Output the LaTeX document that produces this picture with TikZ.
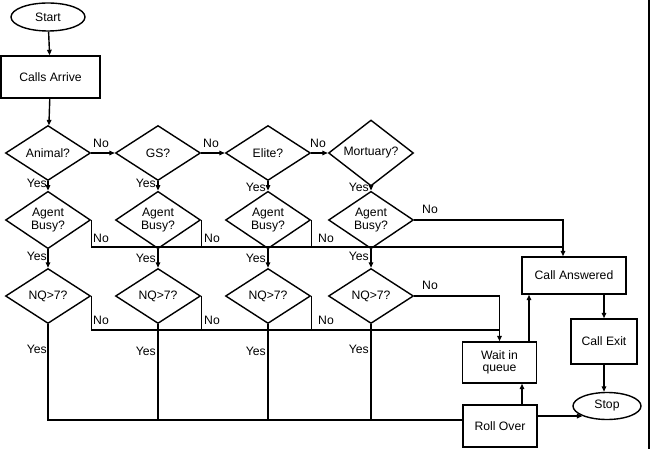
\documentclass[tikz,border=0pt]{standalone}
\usepackage{fontspec}
\setmainfont{Liberation Sans}
\usetikzlibrary{shapes.geometric,arrows.meta}
\begin{document}
\begin{tikzpicture}[x=1pt,y=-1pt,
  every node/.style={font=\fontsize{12.2}{12.5}\selectfont},
  ln/.style={line width=1.4pt, black},
  arr/.style={ln, -{Triangle[length=5.5pt,width=4.5pt]}},
  dec/.style={draw, line width=1.4pt, diamond, inner sep=0pt, minimum width=85pt, minimum height=55pt, align=center},
  proc/.style={draw, line width=1.4pt, rectangle, inner sep=0pt, align=center},
  term/.style={draw, line width=1.4pt, ellipse, inner sep=0pt},
  lbl/.style={inner sep=0pt}]
\useasboundingbox (0,0) rectangle (650,449);
\draw[line width=1.6pt] (649,0) -- (649,449);
% terminals and processes
\node[term, minimum width=74pt, minimum height=28pt] (start) at (48,17) {Start};
\node[proc, minimum width=99pt, minimum height=42pt] (ca) at (50.5,77) {Calls Arrive};
\node[proc, minimum width=104pt, minimum height=37pt] (ans) at (574,275.5) {Call Answered};
\node[proc, minimum width=66pt, minimum height=45pt] (ce) at (604,341.5) {Call Exit};
\node[proc, minimum width=74pt, minimum height=41pt] (wq) at (499.5,362.5) {Wait in\\queue};
\node[proc, minimum width=74pt, minimum height=42pt] (ro) at (500,426) {Roll Over};
\node[term, minimum width=68pt, minimum height=27pt] (stop) at (607,406) {Stop};
% decisions
\node[dec] (a1) at (48,153) {Animal?};
\node[dec] (a2) at (158,153) {GS?};
\node[dec] (a3) at (268,153) {Elite?};
\node[dec] (a4) at (371,153) {Mortuary?};
\foreach \i/\x in {1/48,2/158,3/268,4/371}{
  \node[dec] (b\i) at (\x,220) {Agent\\Busy?};
  \node[dec] (c\i) at (\x,296) {NQ>7?};
}
% junction coordinates
\coordinate (jb) at (563,247);
\coordinate (jc) at (499.5,330);
\coordinate (ansin) at ([xshift=-11pt]ans.north);
% top flow
\draw[arr] (start) -- (ca);
\draw[arr] (ca) -- (a1);
\draw[arr] (a1.east) -- (a2.west);
\draw[arr] (a2.east) -- (a3.west);
\draw[arr] (a3.east) -- (a4.west);
\node[lbl] at (101,143) {No};
\node[lbl] at (211,143) {No};
\node[lbl] at (318,143) {No};
% yes arrows
\foreach \i in {1,2,3,4}{
  \draw[arr] (a\i.south) -- (b\i.north);
  \draw[arr] (b\i.south) -- (c\i.north);
}
\node[lbl, anchor=east] at (47,183) {Yes};
\node[lbl, anchor=east] at (156,183) {Yes};
\node[lbl, anchor=east] at (266,187) {Yes};
\node[lbl, anchor=east] at (369,187) {Yes};
\node[lbl, anchor=east] at (47,256) {Yes};
\node[lbl, anchor=east] at (156,258) {Yes};
\node[lbl, anchor=east] at (266,258) {Yes};
\node[lbl, anchor=east] at (369,256) {Yes};
% agent busy no
\draw[ln] (b1.east) |- (jb);
\draw[ln] (b2.east) -- (b2.east |- jb);
\draw[ln] (b3.east) -- (b3.east |- jb);
\draw[arr] (b4.east) -| (ansin);
\node[lbl] at (101,238) {No};
\node[lbl] at (212,238) {No};
\node[lbl] at (326,238) {No};
\node[lbl] at (430,209) {No};
% NQ no
\draw[ln] (c1.east) |- (jc);
\draw[ln] (c2.east) -- (c2.east |- jc);
\draw[ln] (c3.east) -- (c3.east |- jc);
\draw[arr] (c4.east) -| (wq.north);
\node[lbl] at (101,320) {No};
\node[lbl] at (212,320) {No};
\node[lbl] at (326,320) {No};
\node[lbl] at (430,285) {No};
% NQ yes to roll over
\coordinate (roin) at ([yshift=6pt]ro.west);
\draw[ln] (c1.south) |- (roin);
\draw[ln] (c2.south) -- (c2.south |- roin);
\draw[ln] (c3.south) -- (c3.south |- roin);
\draw[ln] (c4.south) -- (c4.south |- roin);
\node[lbl, anchor=east] at (47,349) {Yes};
\node[lbl, anchor=east] at (156,351) {Yes};
\node[lbl, anchor=east] at (266,351) {Yes};
\node[lbl, anchor=east] at (369,349) {Yes};
% right side
\draw[arr] ([xshift=22pt]ro.north) -- ([xshift=22pt]ro.north |- wq.south);
\draw[arr] ([xshift=29.5pt]wq.north) -- ([xshift=29.5pt]wq.north |- ans.south);
\draw[arr] (ce.north |- ans.south) -- (ce.north);
\draw[arr] (ce.south) -- (ce.south |- stop.north);
\draw[arr] (ro.east |- stop.south west) -- (stop.south west);
\end{tikzpicture}
\end{document}
